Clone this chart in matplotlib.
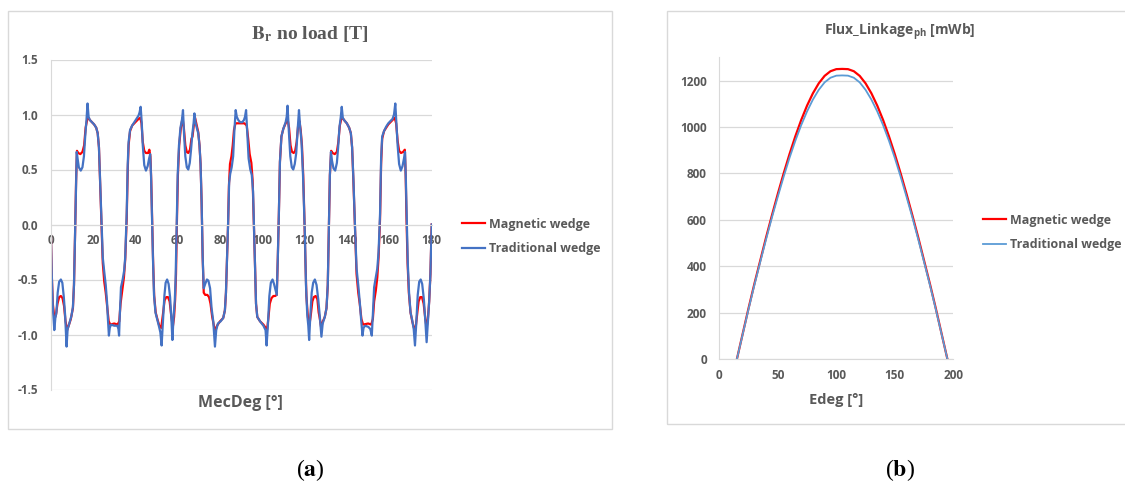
import matplotlib
matplotlib.use("Agg")
import matplotlib.pyplot as plt
from matplotlib.patches import Rectangle
from matplotlib.ticker import FormatStrFormatter

plt.rcParams["font.family"] = ["Open Sans", "DejaVu Sans"]
plt.rcParams["font.weight"] = "bold"
plt.rcParams["mathtext.fontset"] = "custom"
plt.rcParams["mathtext.rm"] = "Open Sans:bold"
plt.rcParams["mathtext.bf"] = "Open Sans:bold"

# --- data (a): radial flux density, no load ---
BR_MAG_DEG = [
    0, 0.5, 1.0, 1.8, 2.5, 3.2, 4.0, 4.8, 5.6, 6.3, 7.0, 7.8, 8.5, 9.5, 10.5, 11.0, 11.5, 12.0,
    12.4, 13.0, 14.0, 15.0, 15.8, 16.5, 17.3, 17.8, 18.5, 19.5, 20.5, 21.5, 22.2, 22.8, 23.3, 24.0,
    24.6, 25.3, 26.0, 26.7, 27.4, 28.2, 30.0, 31.6, 32.4, 33.0, 33.8, 34.6, 35.2, 35.9,
    36.4, 36.8, 37.5, 38.5, 39.5, 40.5, 41.5, 42.3, 42.9, 43.5, 44.2, 45.0, 46.0, 46.6, 47.1, 47.5, 47.9,
    48.4, 48.9, 49.6, 50.4, 51.3, 52.2, 53.0, 53.8, 54.6, 55.4, 56.2, 57.0, 57.7, 58.3, 58.8, 59.2, 59.6,
    60.1, 60.7, 61.5, 62.3, 62.9, 63.6, 64.3, 65.0, 65.8, 66.5, 67.0, 67.6, 68.2, 69.0, 69.7, 70.3, 70.8, 71.3,
    71.8, 72.3, 73.0, 74.0, 74.8, 75.5, 76.3, 77.2, 77.8, 78.6, 80.0, 81.5, 82.3, 82.8, 83.3, 83.8,
    84.2, 84.7, 85.4, 86.0, 86.6, 87.3, 88.5, 90.0, 91.5, 92.6, 93.3, 94.0, 94.8, 95.4, 96.0,
    96.5, 97.0, 97.6, 98.9, 100.5, 101.6, 102.2, 102.8, 103.5, 104.3, 105.2, 106.0, 106.8, 107.3, 107.8,
    108.3, 109.0, 109.9, 111.0, 111.9, 112.6, 113.3, 114.0, 114.8, 115.5, 116.2, 116.9, 117.5, 118.1, 118.7, 119.3, 119.8,
    120.3, 120.8, 121.5, 122.2, 122.9, 123.6, 124.3, 125.2, 126.0, 126.6, 127.0, 127.8, 128.6, 129.5, 130.3, 130.9, 131.4,
    131.9, 132.5, 133.2, 134.2, 135.2, 135.9, 136.6, 137.4, 138.2, 139.0, 139.9, 141.0, 141.8, 142.4, 143.0, 143.8,
    144.5, 145.3, 146.0, 146.8, 147.6, 150.0, 151.4, 152.2, 152.8, 153.6, 154.3, 154.9, 155.6,
    156.1, 156.6, 157.5, 158.5, 159.5, 160.5, 161.5, 162.5, 163.2, 163.9, 164.6, 165.5, 166.5, 167.3, 167.7, 168.1,
    168.6, 169.2, 170.0, 170.8, 171.6, 172.3, 173.0, 173.8, 174.6, 175.4, 176.2, 177.0, 177.6, 178.2, 178.8, 179.4, 180.0,
]
BR_MAG = [
    0.0, -0.45, -0.72, -0.86, -0.82, -0.72, -0.66, -0.65, -0.67, -0.74, -0.88, -0.96, -0.92, -0.86, -0.76, -0.55, -0.10, 0.40,
    0.67, 0.65, 0.64, 0.66, 0.72, 0.88, 0.96, 0.97, 0.95, 0.93, 0.91, 0.88, 0.83, 0.70, 0.40, -0.02,
    -0.35, -0.52, -0.62, -0.75, -0.88, -0.91, -0.90, -0.91, -0.88, -0.72, -0.60, -0.48, -0.32, 0.05,
    0.50, 0.72, 0.85, 0.90, 0.92, 0.94, 0.96, 0.97, 0.92, 0.75, 0.67, 0.65, 0.65, 0.68, 0.62, 0.40, 0.05,
    -0.35, -0.65, -0.80, -0.86, -0.92, -0.94, -0.82, -0.69, -0.66, -0.66, -0.70, -0.84, -0.93, -0.84, -0.68, -0.45, 0.0,
    0.45, 0.72, 0.88, 0.97, 0.88, 0.72, 0.66, 0.65, 0.68, 0.78, 0.80, 0.90, 0.97, 0.90, 0.84, 0.72, 0.55, 0.20,
    -0.30, -0.62, -0.64, -0.64, -0.66, -0.72, -0.84, -0.93, -0.96, -0.92, -0.88, -0.85, -0.78, -0.62, -0.30, 0.0,
    0.35, 0.55, 0.62, 0.72, 0.86, 0.92, 0.92, 0.92, 0.92, 0.90, 0.78, 0.64, 0.56, 0.40, 0.0,
    -0.35, -0.72, -0.84, -0.88, -0.91, -0.94, -0.96, -0.86, -0.72, -0.67, -0.65, -0.65, -0.64, -0.30, 0.10,
    0.57, 0.80, 0.87, 0.92, 0.96, 0.88, 0.72, 0.66, 0.65, 0.67, 0.75, 0.90, 0.94, 0.86, 0.72, 0.45, 0.10,
    -0.30, -0.65, -0.84, -0.92, -0.82, -0.70, -0.66, -0.65, -0.68, -0.80, -0.84, -0.94, -0.88, -0.84, -0.76, -0.55, -0.05,
    0.45, 0.67, 0.65, 0.64, 0.66, 0.75, 0.90, 0.97, 0.96, 0.94, 0.92, 0.88, 0.83, 0.70, 0.40, -0.06,
    -0.45, -0.62, -0.72, -0.86, -0.91, -0.90, -0.91, -0.86, -0.70, -0.60, -0.48, -0.30, 0.05,
    0.55, 0.78, 0.85, 0.88, 0.91, 0.93, 0.95, 0.97, 0.92, 0.76, 0.67, 0.65, 0.66, 0.68, 0.45, 0.05,
    -0.35, -0.62, -0.80, -0.88, -0.94, -0.96, -0.84, -0.70, -0.66, -0.66, -0.72, -0.86, -0.94, -0.86, -0.70, -0.45, 0.0,
]
BR_TRAD_DEG = [
    0, 0.5, 1.0, 1.7, 2.2, 2.7, 3.3, 4.0, 4.8, 5.5, 6.2, 6.8, 7.5, 8.0, 8.8, 9.8, 10.5, 11.0, 11.5, 12.0,
    12.3, 12.7, 13.3, 14.2, 15.0, 15.7, 16.3, 16.9, 17.4, 17.9, 18.5, 19.5, 20.5, 21.5, 22.2, 22.8, 23.3, 24.0,
    24.6, 25.3, 26.0, 26.6, 27.0, 27.5, 27.9, 28.5, 30.0, 31.5, 32.0, 32.3, 32.7, 33.2, 34.0, 34.7, 35.2, 35.9,
    36.4, 36.8, 37.5, 38.5, 39.5, 40.5, 41.5, 42.0, 42.5, 43.0, 43.5, 44.2, 45.0, 45.8, 46.5, 47.0, 47.4, 47.8,
    48.3, 48.8, 49.5, 50.3, 51.2, 51.8, 52.4, 53.0, 53.7, 54.3, 55.0, 55.7, 56.4, 57.0, 57.5, 58.0, 58.6, 59.0, 59.5,
    60.0, 60.6, 61.3, 62.0, 62.5, 63.0, 63.6, 64.3, 65.0, 65.7, 66.3, 66.9, 67.5, 67.9, 68.4, 69.0, 69.7, 70.3, 70.8, 71.3,
    71.8, 72.3, 73.0, 73.8, 74.5, 75.3, 76.0, 76.8, 77.6, 78.2, 79.0, 80.3, 81.5, 82.3, 82.8, 83.3, 83.8,
    84.3, 84.8, 85.5, 86.2, 86.8, 87.4, 87.9, 88.6, 89.5, 90.5, 91.3, 91.8, 92.3, 92.8, 93.5, 94.3, 95.0, 95.6, 96.0,
    96.5, 97.0, 97.6, 98.9, 100.5, 101.5, 102.0, 102.6, 103.3, 104.0, 104.8, 105.5, 106.3, 106.8, 107.3, 107.8,
    108.3, 109.0, 109.9, 111.0, 111.5, 111.9, 112.5, 113.2, 113.9, 114.6, 115.3, 116.0, 116.6, 117.3, 117.8, 118.5, 119.2, 119.7,
    120.1, 120.6, 121.2, 121.7, 122.1, 122.6, 123.3, 124.0, 124.8, 125.6, 126.4, 127.2, 127.9, 128.5, 129.5, 130.3, 130.9, 131.4,
    131.9, 132.4, 132.9, 133.6, 134.4, 135.2, 135.8, 136.4, 137.0, 137.5, 138.0, 138.6, 139.9, 141.0, 141.8, 142.4, 143.0, 143.8,
    144.5, 145.3, 146.0, 146.6, 147.3, 147.8, 148.5, 150.0, 151.0, 151.7, 152.2, 152.8, 153.6, 154.3, 154.9, 155.6,
    156.1, 156.6, 157.5, 158.5, 159.5, 160.5, 161.5, 162.2, 162.8, 163.3, 163.9, 164.6, 165.4, 166.2, 166.9, 167.4, 167.8, 168.2,
    168.7, 169.3, 170.0, 170.8, 171.5, 172.1, 172.7, 173.4, 174.1, 174.8, 175.5, 176.3, 177.0, 177.6, 178.2, 178.8, 179.4, 180.0,
]
BR_TRAD = [
    0.0, -0.45, -0.75, -0.96, -0.85, -0.80, -0.62, -0.52, -0.50, -0.53, -0.66, -0.82, -1.11, -0.95, -0.90, -0.83, -0.75, -0.55, -0.10, 0.40,
    0.66, 0.60, 0.52, 0.49, 0.52, 0.62, 0.80, 0.95, 1.10, 0.98, 0.95, 0.93, 0.91, 0.88, 0.83, 0.70, 0.42, 0.0,
    -0.30, -0.43, -0.55, -0.70, -0.85, -1.01, -0.94, -0.91, -0.92, -0.92, -0.95, -1.01, -0.80, -0.57, -0.50, -0.42, -0.30, 0.10,
    0.55, 0.75, 0.86, 0.90, 0.93, 0.96, 0.99, 1.02, 1.07, 0.93, 0.72, 0.54, 0.49, 0.53, 0.60, 0.64, 0.45, 0.10,
    -0.30, -0.64, -0.80, -0.86, -0.93, -0.98, -1.10, -0.90, -0.65, -0.53, -0.50, -0.54, -0.66, -0.85, -1.05, -0.85, -0.70, -0.50, 0.0,
    0.45, 0.72, 0.88, 0.95, 1.04, 0.82, 0.62, 0.52, 0.50, 0.56, 0.68, 0.82, 0.92, 1.01, 0.93, 0.88, 0.83, 0.72, 0.55, 0.20,
    -0.30, -0.58, -0.54, -0.50, -0.51, -0.58, -0.76, -0.88, -1.11, -0.96, -0.90, -0.88, -0.85, -0.78, -0.62, -0.30, 0.0,
    0.38, 0.46, 0.52, 0.62, 0.86, 1.04, 0.98, 0.95, 0.93, 0.93, 0.95, 0.98, 1.04, 0.86, 0.60, 0.50, 0.45, 0.30, 0.0,
    -0.35, -0.72, -0.84, -0.88, -0.92, -0.96, -1.10, -0.92, -0.65, -0.53, -0.50, -0.54, -0.60, -0.64, -0.30, 0.10,
    0.57, 0.80, 0.87, 0.93, 0.98, 1.08, 0.85, 0.62, 0.52, 0.50, 0.55, 0.65, 0.84, 1.04, 0.90, 0.75, 0.45, 0.15,
    -0.10, -0.55, -0.82, -0.92, -1.05, -0.85, -0.62, -0.53, -0.50, -0.55, -0.68, -0.85, -1.02, -0.90, -0.84, -0.76, -0.55, -0.05,
    0.45, 0.66, 0.58, 0.51, 0.49, 0.56, 0.70, 0.88, 0.97, 1.07, 0.97, 0.95, 0.92, 0.88, 0.83, 0.70, 0.42, -0.04,
    -0.40, -0.55, -0.70, -0.85, -1.01, -0.94, -0.92, -0.93, -0.95, -1.01, -0.82, -0.57, -0.48, -0.40, -0.25, 0.10,
    0.60, 0.80, 0.85, 0.89, 0.92, 0.94, 0.96, 1.00, 1.10, 0.93, 0.72, 0.55, 0.49, 0.53, 0.60, 0.66, 0.40, 0.05,
    -0.35, -0.62, -0.80, -0.87, -0.95, -1.10, -0.90, -0.64, -0.52, -0.50, -0.54, -0.68, -0.88, -1.07, -0.88, -0.70, -0.45, 0.0,
]
BR_YTICKS = [-1.5, -1.0, -0.5, 0.0, 0.5, 1.0, 1.5]
BR_XTICKS = [0, 20, 40, 60, 80, 100, 120, 140, 160, 180]

# --- data (b): phase flux linkage ---
FL_DEG = [15, 20, 25, 30, 35, 40, 45, 50, 55, 60, 65, 70, 75, 80, 85, 90, 95, 100, 105,
          110, 115, 120, 125, 130, 135, 140, 145, 150, 155, 160, 165, 170, 175, 180, 185, 190, 195]
FL_MAG = [0, 110, 220, 325, 425, 525, 620, 712, 800, 883, 960, 1030, 1092, 1145, 1188, 1220, 1240, 1249, 1250,
          1249, 1240, 1220, 1188, 1145, 1092, 1030, 960, 883, 800, 712, 620, 525, 425, 325, 220, 110, 0]
FL_TRAD = [0, 108, 216, 320, 419, 517, 611, 700, 786, 867, 941, 1008, 1067, 1118, 1160, 1192, 1212, 1221, 1222,
           1221, 1212, 1192, 1160, 1118, 1067, 1008, 941, 867, 786, 700, 611, 517, 419, 320, 216, 108, 0]
FL_YTICKS = [0, 200, 400, 600, 800, 1000, 1200]
FL_XTICKS = [0, 50, 100, 150, 200]

LABELS = ["Magnetic wedge", "Traditional wedge"]
RED = "#ff0000"
BLUE_A = "#4472c4"
BLUE_B = "#5b9bd5"
TXT = "#595959"
GRID = "#d9d9d9"

W, H = 1125, 495
fig = plt.figure(figsize=(W / 100, H / 100), dpi=100)


def fx(px):
    return px / W


def fy(py):
    return 1 - py / H


def box(x0, y0, x1, y1):
    fig.patches.append(Rectangle((fx(x0), fy(y1)), fx(x1 - x0), (y1 - y0) / H,
                                 transform=fig.transFigure, fill=False,
                                 edgecolor=GRID, lw=1.0))


def style(ax):
    for s in ("top", "right"):
        ax.spines[s].set_visible(False)
    ax.spines["left"].set_color(GRID)
    ax.spines["bottom"].set_color(GRID)
    ax.tick_params(length=0, labelsize=8.5, labelcolor=TXT)
    ax.yaxis.grid(True, color=GRID, lw=0.9)
    ax.set_axisbelow(True)


def add_legend(ax, x_px, y_px):
    ax.legend(loc="center left", bbox_to_anchor=(fx(x_px), fy(y_px)),
              bbox_transform=fig.transFigure, frameon=False, borderpad=0,
              borderaxespad=0, handlelength=1.9, handletextpad=0.25,
              labelspacing=0.95, prop={"size": 9, "weight": "bold"}, labelcolor=TXT)


box(8, 11, 612, 429)
box(667, 11, 1135, 424)

# (a)
ax1 = fig.add_axes([fx(50.7), fy(389.5), fx(381), 330 / H])
ax1.plot(BR_MAG_DEG, BR_MAG, color=RED, lw=1.6, label=LABELS[0])
ax1.plot(BR_TRAD_DEG, BR_TRAD, color=BLUE_A, lw=1.6, label=LABELS[1])
ax1.set_xlim(0, 180)
ax1.set_ylim(-1.5, 1.5)
ax1.set_xticks(BR_XTICKS)
ax1.set_yticks(BR_YTICKS)
ax1.yaxis.set_major_formatter(FormatStrFormatter("%.1f"))
ax1.spines["bottom"].set_position(("data", 0))
ax1.tick_params(axis="x", pad=7)
ax1.tick_params(axis="y", pad=9)
style(ax1)
add_legend(ax1, 461.7, 236.5)

fig.text(fx(310), fy(34), r"$\mathbf{B_r}$ no load [T]", ha="center", va="center",
         family="Liberation Serif", weight="bold", size=14, color=TXT,
         math_fontfamily="stix")
fig.text(fx(240), fy(403), "MecDeg [°]", ha="center", va="center",
         weight="bold", size=11.5, color=TXT)

# (b)
ax2 = fig.add_axes([fx(719.3), fy(359.3), fx(234), 302 / H])
ax2.plot(FL_DEG, FL_MAG, color=RED, lw=1.6, label=LABELS[0])
ax2.plot(FL_DEG, FL_TRAD, color=BLUE_B, lw=1.3, label=LABELS[1])
ax2.set_xlim(0, 200)
ax2.set_ylim(0, 1300)
ax2.set_xticks(FL_XTICKS)
ax2.set_yticks(FL_YTICKS)
ax2.tick_params(axis="x", pad=7)
ax2.tick_params(axis="y", pad=9)
style(ax2)
add_legend(ax2, 982.7, 232.5)

fig.text(fx(900), fy(32), r"Flux_Linkage$_{\rm ph}$ [mWb]", ha="center", va="center",
         weight="bold", size=10, color=TXT)
fig.text(fx(836), fy(400), "Edeg [°]", ha="center", va="center",
         weight="bold", size=10.5, color=TXT)

# sub-captions
for x, letter in [(310, "a"), (900, "b")]:
    fig.text(fx(x), fy(470), "(" + r"$\mathbf{%s}$" % letter + ")", ha="center", va="center",
             family="Liberation Serif", weight="normal", size=17, color="black",
             math_fontfamily="stix")

fig.savefig("out.png", dpi=100)
